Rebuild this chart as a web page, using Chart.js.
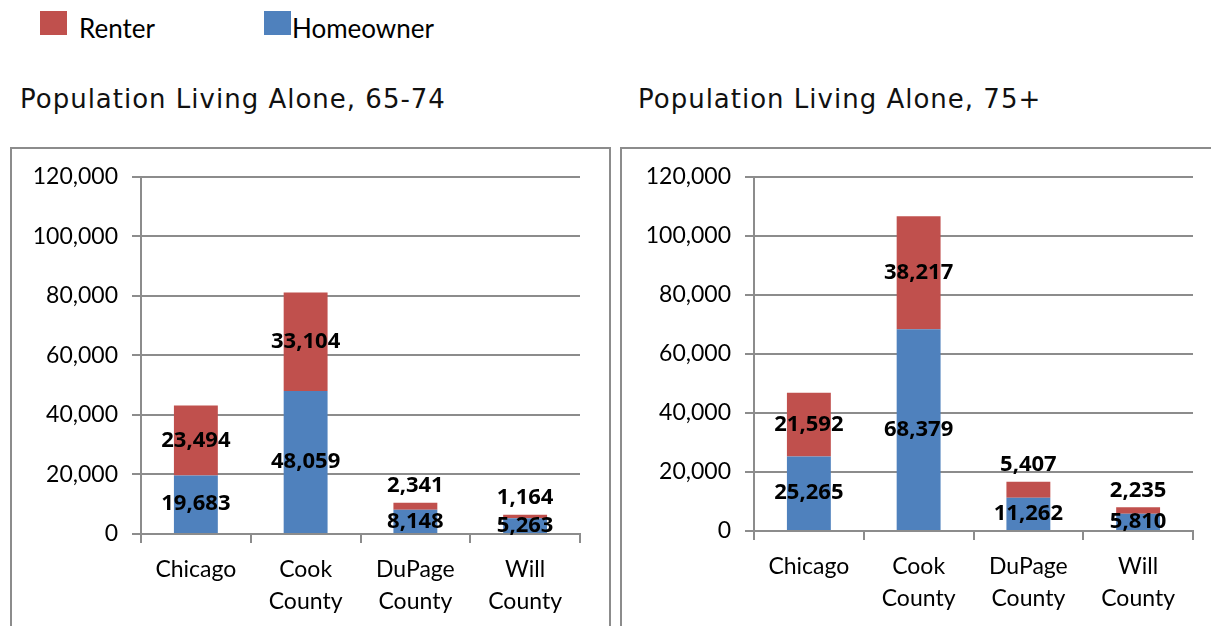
<!DOCTYPE html>
<html>
<head>
<meta charset="utf-8">
<script src="https://cdn.jsdelivr.net/npm/chart.js@4"></script>
<style>
  body { margin: 0; width: 1211px; height: 626px; overflow: hidden; background: #fff; position: relative; font-family: Lato, sans-serif; }
  .swatch { position: absolute; top: 11px; width: 27px; height: 24px; }
  .legtext { position: absolute; top: 13px; font-size: 26px; color: #000; line-height: 30px; }
  .title { position: absolute; top: 84px; font-family: "DejaVu Sans", sans-serif; font-size: 26px; color: #111; letter-spacing: 1px; }
  .box { position: absolute; top: 147px; border: 2px solid #8c8c8c; background: #fff; }
</style>
</head>
<body>
<div class="swatch" style="left:40px;background:#C0504D"></div>
<div class="legtext" style="left:79px">Renter</div>
<div class="swatch" style="left:264px;background:#4F81BD"></div>
<div class="legtext" style="left:292px">Homeowner</div>

<div class="title" style="left:20px">Population Living Alone, 65-74</div>
<div class="title" style="left:638px">Population Living Alone, 75+</div>

<div class="box" style="left:10px;width:597px;height:490px"><canvas id="c1" width="597" height="478"></canvas></div>
<div class="box" style="left:620px;width:600px;height:490px"><canvas id="c2" width="589" height="478"></canvas></div>

<script>
const categories = [['Chicago'], ['Cook', 'County'], ['DuPage', 'County'], ['Will', 'County']];
const homeowner6574 = [19683, 48059, 8148, 5263];
const renter6574 = [23494, 33104, 2341, 1164];
const homeowner75 = [25265, 68379, 11262, 5810];
const renter75 = [21592, 38217, 5407, 2235];

const RED = '#C0504D';
const BLUE = '#4F81BD';
const GRID = '#8c8c8c';

// value in the middle of each segment; thin renter segments get it just above the bar
const barLabels = {
  id: 'barLabels',
  afterDatasetsDraw(chart) {
    const ctx = chart.ctx;
    ctx.save();
    ctx.font = 'bold 22px "Open Sans", Lato, sans-serif';
    ctx.fillStyle = '#000';
    ctx.textAlign = 'center';
    ctx.textBaseline = 'middle';
    const last = chart.data.datasets.length - 1;
    chart.data.datasets.forEach((ds, i) => {
      const meta = chart.getDatasetMeta(i);
      meta.data.forEach((bar, j) => {
        const p = bar.getProps(['x', 'y', 'base'], true);
        const h = p.base - p.y;
        let ty = (p.y + p.base) / 2;
        if (i === last && h < 25) ty = p.y - 17;
        ctx.fillText(ds.data[j].toLocaleString('en-US'), p.x, ty);
      });
    });
    ctx.restore();
  }
};

function makeChart(id, homeowner, renter, yWidth, padTop, padRight, xHeight) {
  return new Chart(document.getElementById(id), {
    type: 'bar',
    data: {
      labels: categories,
      datasets: [
        { label: 'Homeowner', data: homeowner, backgroundColor: BLUE, barPercentage: 0.4, categoryPercentage: 1 },
        { label: 'Renter', data: renter, backgroundColor: RED, barPercentage: 0.4, categoryPercentage: 1 }
      ]
    },
    options: {
      responsive: false,
      animation: false,
      layout: { padding: { top: padTop, right: padRight, left: 0, bottom: 0 } },
      plugins: { legend: { display: false }, tooltip: { enabled: false } },
      scales: {
        x: {
          stacked: true,
          grid: { drawOnChartArea: false, color: GRID, lineWidth: 2, tickLength: 9 },
          border: { color: GRID, width: 2 },
          ticks: { color: '#000', font: { family: 'Lato', size: 23, lineHeight: 1.4 }, padding: 10 },
          afterFit(scale) { scale.height = xHeight; }
        },
        y: {
          stacked: true,
          min: 0,
          max: 120000,
          ticks: {
            stepSize: 20000,
            color: '#000',
            font: { family: 'Lato', size: 23 },
            padding: 14,
            callback: v => v.toLocaleString('en-US')
          },
          grid: { color: GRID, lineWidth: 2, tickLength: 9 },
          border: { color: GRID, width: 2 },
          afterFit(scale) { scale.width = yWidth; }
        }
      }
    },
    plugins: [barLabels]
  });
}

makeChart('c1', homeowner6574, renter6574, 129, 22, 29, 93);
makeChart('c2', homeowner75, renter75, 132, 23, 18, 96);
</script>
</body>
</html>
